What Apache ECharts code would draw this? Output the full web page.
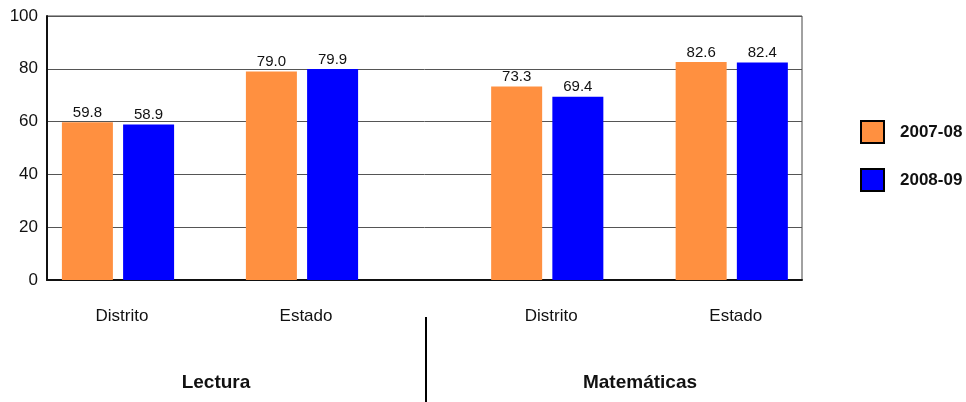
<!DOCTYPE html>
<html><head><meta charset="utf-8">
<script src="https://cdn.jsdelivr.net/npm/echarts@6/dist/echarts.min.js"></script>
<style>html,body{margin:0;padding:0;background:#fff}#c{width:966px;height:402px}</style>
</head><body><div id="c"></div>
<script>
const subjects = ['Lectura', 'Matemáticas'];
const categories = ['Distrito', 'Estado'];
const seriesNames = ['2007-08', '2008-09'];
const lectura0708 = [59.8, 79.0];
const lectura0809 = [58.9, 79.9];
const mate0708 = [73.3, 82.6];
const mate0809 = [69.4, 82.4];
const yTicks = [0, 20, 40, 60, 80, 100];
const colors = ['#FF9040', '#0000FF'];

(function () {
const FONT = '"Liberation Sans", Arial, sans-serif';
const chart = echarts.init(document.getElementById('c'), null, {renderer: 'canvas'});
const gTop = 16, gBottom = 122;

function barSeries(name, data, idx, color) {
  return {
    name: name, type: 'bar', data: data, xAxisIndex: idx, yAxisIndex: idx,
    barWidth: 51, barGap: '20%',
    itemStyle: {color: color},
    label: {show: true, position: 'top', distance: 2, fontFamily: FONT, fontSize: 15, color: '#111',
      formatter: p => p.value.toFixed(1)}
  };
}
const hiddenY = i => ({type: 'value', gridIndex: i, min: 0, max: 100, interval: 20, show: false});
const catX = i => ({type: 'category', gridIndex: i, data: categories,
  axisLine: {show: false}, axisTick: {show: false},
  axisLabel: {margin: 28, fontFamily: FONT, fontSize: 17, color: '#111', padding: [0, 0, 0, 8]}});

chart.setOption({
  animation: false,
  grid: [
    {left: 47, right: 164, top: gTop, bottom: gBottom, show: true, borderColor: '#444', borderWidth: 1},
    {left: 26, width: 368, top: gTop, bottom: gBottom},
    {left: 455, width: 369, top: gTop, bottom: gBottom}
  ],
  xAxis: [
    {type: 'category', gridIndex: 0, data: [''], axisLabel: {show: false}, axisTick: {show: false},
      axisLine: {show: true, lineStyle: {color: '#111', width: 2}}},
    catX(1), catX(2)
  ],
  yAxis: [
    {type: 'value', gridIndex: 0, min: yTicks[0], max: yTicks[yTicks.length - 1], interval: 20,
      axisLine: {show: true, lineStyle: {color: '#111', width: 2}}, axisTick: {show: false},
      splitLine: {lineStyle: {color: '#555', width: 1}},
      axisLabel: {margin: 9, fontFamily: FONT, fontSize: 17, color: '#111'}},
    hiddenY(1), hiddenY(2)
  ],
  legend: {
    orient: 'vertical', left: 860, top: 120, padding: 0, itemWidth: 23, itemHeight: 22, itemGap: 24,
    icon: 'rect', data: seriesNames,
    itemStyle: {borderColor: '#000', borderWidth: 2},
    textStyle: {fontFamily: FONT, fontSize: 17, fontWeight: 'bold', color: '#111', padding: [0, 0, 0, 11]}
  },
  series: [
    barSeries(seriesNames[0], lectura0708, 1, colors[0]),
    barSeries(seriesNames[1], lectura0809, 1, colors[1]),
    barSeries(seriesNames[0], mate0708, 2, colors[0]),
    barSeries(seriesNames[1], mate0809, 2, colors[1])
  ],
  graphic: [
    {type: 'text', x: 216, y: 383, style: {text: subjects[0], font: 'bold 19px ' + FONT, fill: '#111', align: 'center', verticalAlign: 'middle'}},
    {type: 'line', shape: {x1: 426, y1: 317, x2: 426, y2: 402}, style: {stroke: '#000', lineWidth: 2}},
    {type: 'text', x: 640, y: 383, style: {text: subjects[1], font: 'bold 19px ' + FONT, fill: '#111', align: 'center', verticalAlign: 'middle'}}
  ]
});
})();
</script></body></html>
